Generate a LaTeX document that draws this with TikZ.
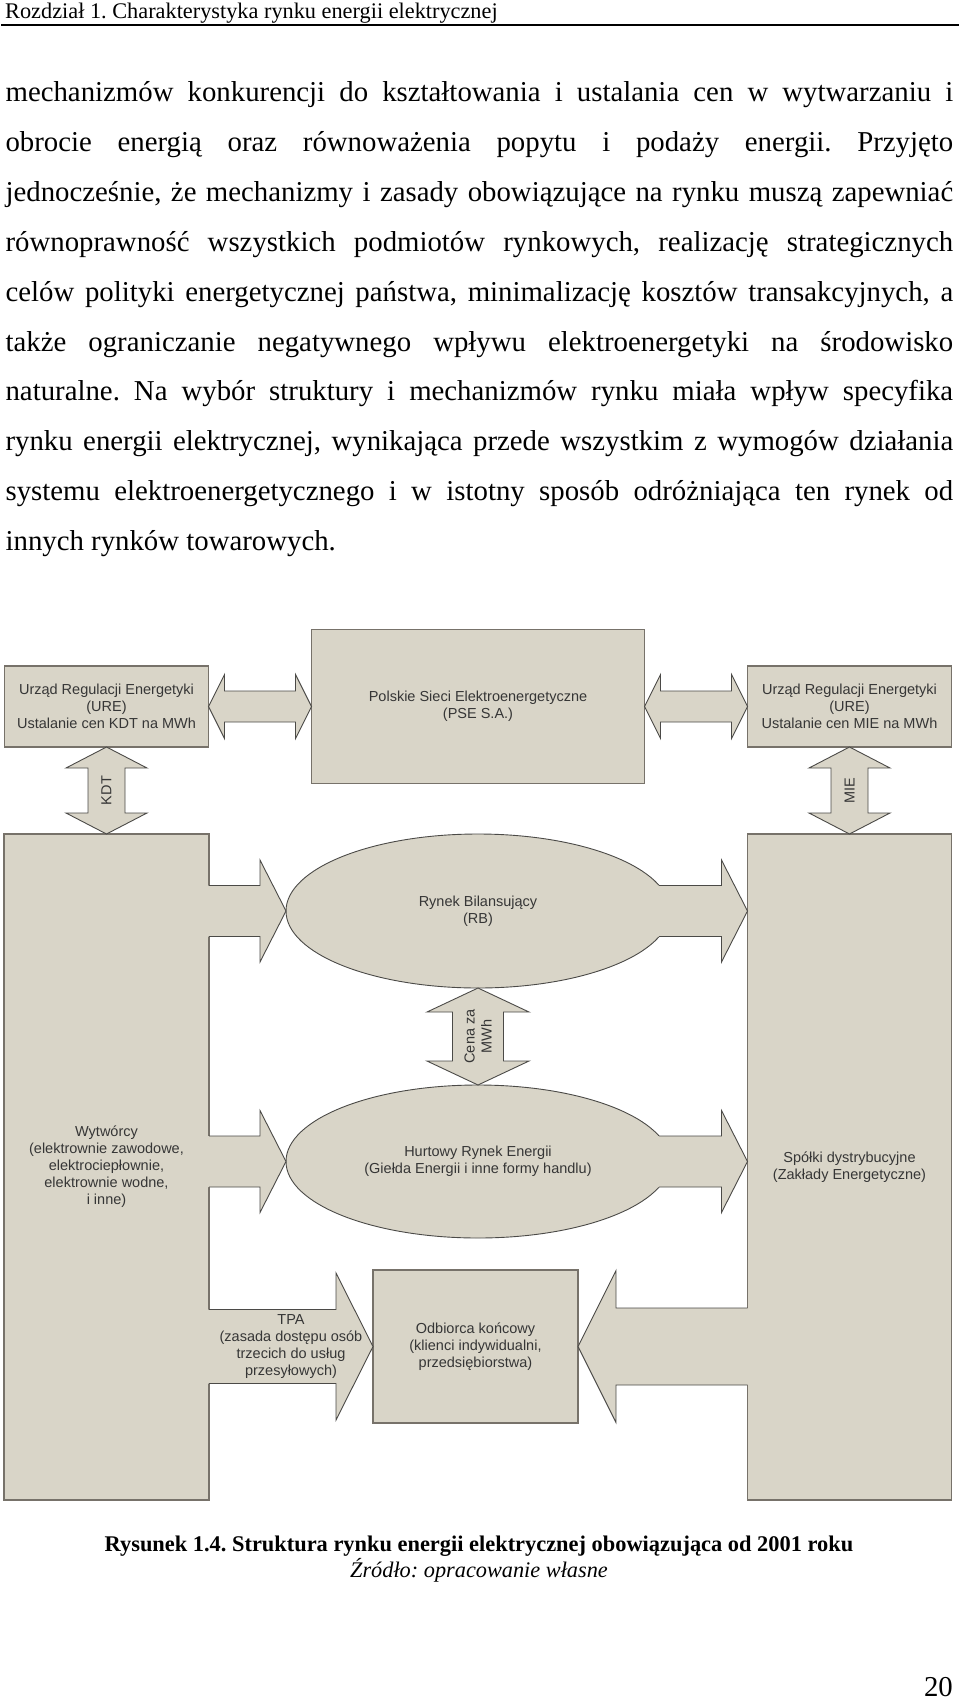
\documentclass[tikz,border=0pt]{standalone}
\usepackage{fontspec}
\setmainfont{Liberation Serif}
\newfontfamily\diagfont{Liberation Sans}
\usepackage{tikz}
\usetikzlibrary{shapes.geometric,calc,positioning}
\frenchspacing

\definecolor{boxfill}{HTML}{D9D5C8}
\definecolor{boxline}{HTML}{77726A}
\definecolor{arrline}{HTML}{4B4A47}
\definecolor{labeltext}{HTML}{363636}

\newcommand{\dfont}{\diagfont\fontsize{14.5}{17}\selectfont}
\newcommand{\jline}[1]{\makebox[947.6pt][s]{#1}}

% block arrows: #3 shaft half, #4 head half, #5 head length
\newcommand{\vdouble}[5]{%
  \filldraw[blockarrow] let \p1=(#1),\p2=(#2) in
    (\x1,\y1) -- (\x1-#4pt,\y1-#5pt) -- (\x1-#3pt,\y1-#5pt) -- (\x1-#3pt,\y2+#5pt)
    -- (\x1-#4pt,\y2+#5pt) -- (\x1,\y2) -- (\x1+#4pt,\y2+#5pt) -- (\x1+#3pt,\y2+#5pt)
    -- (\x1+#3pt,\y1-#5pt) -- (\x1+#4pt,\y1-#5pt) -- cycle;}
\newcommand{\hdouble}[5]{%
  \filldraw[blockarrow] let \p1=(#1),\p2=(#2) in
    (\x1,\y1) -- (\x1+#5pt,\y1+#4pt) -- (\x1+#5pt,\y1+#3pt) -- (\x2-#5pt,\y1+#3pt)
    -- (\x2-#5pt,\y1+#4pt) -- (\x2,\y1) -- (\x2-#5pt,\y1-#4pt) -- (\x2-#5pt,\y1-#3pt)
    -- (\x1+#5pt,\y1-#3pt) -- (\x1+#5pt,\y1-#4pt) -- cycle;}
\newcommand{\rightblock}[5]{%
  \fill[boxfill] let \p1=(#1),\p2=(#2) in
    (\x1-4pt,\y2+#3pt) -- (\x2-#5pt,\y2+#3pt) -- (\x2-#5pt,\y2+#4pt) -- (\x2,\y2)
    -- (\x2-#5pt,\y2-#4pt) -- (\x2-#5pt,\y2-#3pt) -- (\x1-4pt,\y2-#3pt) -- cycle;
  \draw[blockline] let \p1=(#1),\p2=(#2) in
    (\x1,\y2+#3pt) -- (\x2-#5pt,\y2+#3pt) -- (\x2-#5pt,\y2+#4pt) -- (\x2,\y2)
    -- (\x2-#5pt,\y2-#4pt) -- (\x2-#5pt,\y2-#3pt) -- (\x1,\y2-#3pt);}
\newcommand{\leftblock}[5]{%
  \fill[boxfill] let \p1=(#1),\p2=(#2) in
    (\x1+4pt,\y2+#3pt) -- (\x2+#5pt,\y2+#3pt) -- (\x2+#5pt,\y2+#4pt) -- (\x2,\y2)
    -- (\x2+#5pt,\y2-#4pt) -- (\x2+#5pt,\y2-#3pt) -- (\x1+4pt,\y2-#3pt) -- cycle;
  \draw[blockline] let \p1=(#1),\p2=(#2) in
    (\x1,\y2+#3pt) -- (\x2+#5pt,\y2+#3pt) -- (\x2+#5pt,\y2+#4pt) -- (\x2,\y2)
    -- (\x2+#5pt,\y2-#4pt) -- (\x2+#5pt,\y2-#3pt) -- (\x1,\y2-#3pt);}

\begin{document}
\begin{tikzpicture}[x=1pt,y=-1pt,
    box/.style={draw=boxline,fill=boxfill,line width=1.3pt,inner sep=0pt,outer sep=0pt,
                text=labeltext,align=center,font=\dfont},
    bigbox/.style={box,line width=1.9pt,minimum width=205pt,minimum height=666pt},
    urebox/.style={box,minimum width=204pt,minimum height=81pt},
    market/.style={ellipse,draw=arrline,fill=boxfill,line width=0.9pt,inner sep=0pt,
                outer sep=0pt,text=labeltext,align=center,font=\dfont,minimum width=384pt},
    blockline/.style={draw=arrline,line width=0.9pt},
    blockarrow/.style={blockline,fill=boxfill},
    arrlabel/.style={text=labeltext,align=center,font=\dfont,inner sep=0pt},
    bodytext/.style={anchor=base west,inner sep=0pt,font=\fontsize{28.8}{34}\selectfont}]
  \useasboundingbox (0,0) rectangle (960,1699);

  % page header and text
  \node[anchor=base west,inner sep=0pt,font=\fontsize{22.3}{26}\selectfont] (head) at (5,18.4)
    {Rozdział 1. Charakterystyka rynku energii elektrycznej};
  \draw[line width=2.6pt] (1,25) -- (959,25);

  \node[bodytext] (l1) at (5.4,101.8) {\jline{mechanizmów konkurencji do kształtowania i ustalania cen w wytwarzaniu i}};
  \node[bodytext] (l2) at (5.4,151.6) {\jline{obrocie energią oraz równoważenia popytu i podaży energii. Przyjęto}};
  \node[bodytext] (l3) at (5.4,201.5) {\jline{jednocześnie, że mechanizmy i zasady obowiązujące na rynku muszą zapewniać}};
  \node[bodytext] (l4) at (5.4,251.3) {\jline{równoprawność wszystkich podmiotów rynkowych, realizację strategicznych}};
  \node[bodytext] (l5) at (5.4,301.2) {\jline{celów polityki energetycznej państwa, minimalizację kosztów transakcyjnych, a}};
  \node[bodytext] (l6) at (5.4,351.0) {\jline{także ograniczanie negatywnego wpływu elektroenergetyki na środowisko}};
  \node[bodytext] (l7) at (5.4,400.8) {\jline{naturalne. Na wybór struktury i mechanizmów rynku miała wpływ specyfika}};
  \node[bodytext] (l8) at (5.4,450.7) {\jline{rynku energii elektrycznej, wynikająca przede wszystkim z wymogów działania}};
  \node[bodytext] (l9) at (5.4,500.5) {\jline{systemu elektroenergetycznego i w istotny sposób odróżniająca ten rynek od}};
  \node[bodytext] (l10) at (5.4,550.4) {innych rynków towarowych.};

  % market structure
  \node[urebox] (ureL) at (106.5,706.5) {Urząd Regulacji Energetyki\\(URE)\\Ustalanie cen KDT na MWh};
  \node[box,minimum width=333pt,minimum height=154pt] (pse) [right=103pt of ureL]
    {Polskie Sieci Elektroenergetyczne\\(PSE S.A.)};
  \node[urebox] (ureR) [right=103pt of pse] {Urząd Regulacji Energetyki\\(URE)\\Ustalanie cen MIE na MWh};
  \node[bigbox] (wyt) [below=87pt of ureL]
    {Wytwórcy\\(elektrownie zawodowe,\\elektrociepłownie,\\elektrownie wodne,\\i inne)};
  \node[bigbox,minimum width=204pt] (spolki) [below=87pt of ureR]
    {Spółki dystrybucyjne\\(Zakłady Energetyczne)};
  \node[market,minimum height=154pt] (rb) at (478,911) {Rynek Bilansujący\\(RB)};
  \node[market,minimum height=153pt] (hre) [below=97pt of rb]
    {Hurtowy Rynek Energii\\(Giełda Energii i inne formy handlu)};
  \node[box,minimum width=205pt,minimum height=153pt] (odb) at (475.5,1346.5)
    {Odbiorca końcowy\\(klienci indywidualni,\\przedsiębiorstwa)};

  \hdouble{ureL.east}{pse.west}{15.5}{32}{16}
  \hdouble{pse.east}{ureR.west}{15.5}{32}{16}
  \vdouble{ureL.south}{wyt.north}{18.5}{40.5}{21}
  \vdouble{ureR.south}{spolki.north}{18.5}{40.5}{21}
  \vdouble{rb.south}{hre.north}{25.5}{51}{24}
  \rightblock{wyt.east}{rb.west}{25.5}{51}{26}
  \rightblock{wyt.east}{hre.west}{25.5}{51}{26}
  \rightblock{rb.8}{spolki.west |- rb.east}{25.5}{51}{26}
  \rightblock{hre.8}{spolki.west |- hre.east}{25.5}{51}{26}
  \rightblock{wyt.east}{odb.west}{37}{73.5}{37}
  \leftblock{spolki.west}{odb.east}{38.5}{76}{38}

  \node[arrlabel,rotate=90] (kdt) at ($(ureL.south)!0.5!(wyt.north)$) {KDT};
  \node[arrlabel,rotate=90] (mie) at ($(ureR.south)!0.5!(spolki.north)$) {MIE};
  \node[arrlabel,rotate=90] (cena) at ($(rb.south)!0.5!(hre.north)$) {Cena za\\MWh};
  \node[arrlabel] (tpa) at ($(wyt.east |- odb.west)!0.5!(odb.west)$)
    {TPA\\(zasada dostępu osób\\trzecich do usług\\przesyłowych)};

  % caption
  \node[anchor=base,inner sep=0pt,font=\bfseries\fontsize{22.4}{26}\selectfont] (cap) at (479,1551.5)
    {Rysunek 1.4. Struktura rynku energii elektrycznej obowiązująca od 2001 roku};
  \node[anchor=base,inner sep=0pt,font=\itshape\fontsize{22.3}{26}\selectfont] (src) at (479,1577.5)
    {Źródło: opracowanie własne};
  \node[anchor=base east,inner sep=0pt,font=\fontsize{28.8}{34}\selectfont] (pageno) at (953,1696) {20};
\end{tikzpicture}
\end{document}
